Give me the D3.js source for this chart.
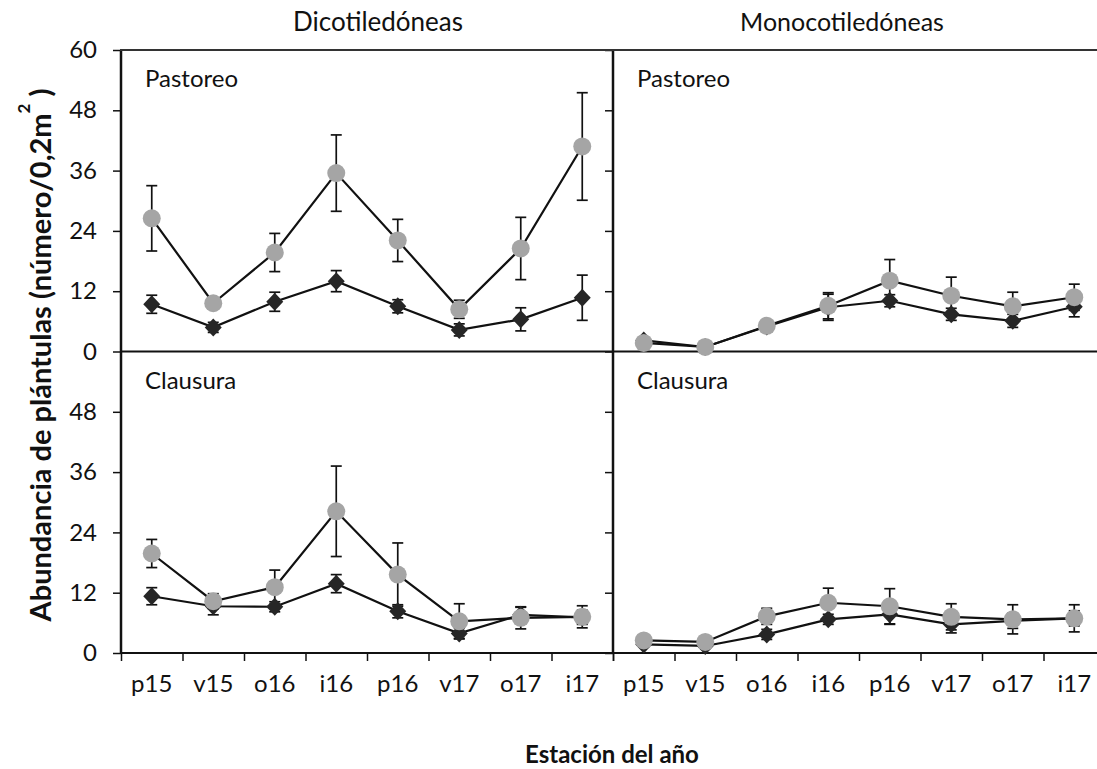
<!DOCTYPE html>
<meta charset="utf-8">
<style>
    body { margin: 0; background: #fff; }
    text { font-family: Lato, "Noto Sans", sans-serif; fill: #111; }
</style>
<svg width="1097" height="769"></svg>
<script src="https://d3js.org/d3.v7.min.js"></script>
<script>

    var seasons = ["p15", "v15", "o16", "i16", "p16", "v17", "o17", "i17"];
    var groups = ["Dicotiledóneas", "Monocotiledóneas"];
    var treatments = ["Pastoreo", "Clausura"];
    var yTicksTop = [0, 12, 24, 36, 48, 60];
    var yTicksBottom = [0, 12, 24, 36, 48];

    // gris (círculos) y negro (rombos): media y error
    var dicotPastoreoGris    = [26.5, 9.6, 19.7, 35.5, 22.1, 8.4, 20.5, 40.8];
    var dicotPastoreoGrisErr = [6.5, 0.9, 3.8, 7.6, 4.2, 1.8, 6.2, 10.7];
    var dicotPastoreoNegro    = [9.4, 4.8, 9.9, 14.0, 9.0, 4.3, 6.4, 10.7];
    var dicotPastoreoNegroErr = [1.8, 1.0, 1.9, 2.1, 1.3, 1.2, 2.3, 4.5];

    var monoPastoreoGris    = [1.7, 0.9, 5.1, 9.1, 14.1, 11.1, 9.0, 10.8];
    var monoPastoreoGrisErr = [0.4, 0.3, 0.8, 2.6, 4.2, 3.7, 2.8, 2.6];
    var monoPastoreoNegro    = [2.2, 0.9, 5.0, 8.8, 10.1, 7.4, 6.1, 8.9];
    var monoPastoreoNegroErr = [0.5, 0.3, 0.8, 2.6, 1.2, 1.2, 1.3, 2.0];

    var dicotClausuraGris    = [19.8, 10.3, 13.1, 28.2, 15.6, 6.3, 7.0, 7.2];
    var dicotClausuraGrisErr = [2.8, 1.5, 3.4, 9.0, 6.3, 3.5, 2.2, 2.2];
    var dicotClausuraNegro    = [11.3, 9.3, 9.2, 13.8, 8.3, 3.9, 7.6, 7.1];
    var dicotClausuraNegroErr = [1.7, 1.7, 1.0, 1.8, 1.3, 1.0, 1.5, 1.4];

    var monoClausuraGris    = [2.5, 2.2, 7.3, 10.0, 9.3, 7.2, 6.7, 6.9];
    var monoClausuraGrisErr = [0.4, 0.4, 1.6, 2.9, 3.5, 2.6, 2.9, 2.7];
    var monoClausuraNegro    = [1.7, 1.4, 3.7, 6.7, 7.7, 5.7, 6.4, 6.9];
    var monoClausuraNegroErr = [0.4, 0.3, 1.0, 1.0, 2.0, 1.7, 1.5, 1.5];

    var panels = [
        { col: 0, row: 0, gris: dicotPastoreoGris, grisErr: dicotPastoreoGrisErr, negro: dicotPastoreoNegro, negroErr: dicotPastoreoNegroErr },
        { col: 1, row: 0, gris: monoPastoreoGris, grisErr: monoPastoreoGrisErr, negro: monoPastoreoNegro, negroErr: monoPastoreoNegroErr },
        { col: 0, row: 1, gris: dicotClausuraGris, grisErr: dicotClausuraGrisErr, negro: dicotClausuraNegro, negroErr: dicotClausuraNegroErr },
        { col: 1, row: 1, gris: monoClausuraGris, grisErr: monoClausuraGrisErr, negro: monoClausuraNegro, negroErr: monoClausuraNegroErr }
    ];

    var svg = d3.select("svg"),
        width = +svg.attr("width"),
        height = +svg.attr("height");

    var plotLeft = 121, panelW = 492, plotTop = 50, panelH = 301.5;
    var gris = "#a5a5a5", negro = "#262626", lineColor = "#111";

    var x = [0, 1].map(function (c) {
        return d3.scaleBand().domain(seasons)
            .range([plotLeft + c * panelW, plotLeft + (c + 1) * panelW]);
    });
    var xTick = [0, 1].map(function (c) {
        return d3.scaleLinear().domain([0, seasons.length])
            .range([plotLeft + c * panelW, plotLeft + (c + 1) * panelW]);
    });
    var y = [0, 1].map(function (r) {
        return d3.scaleLinear().domain([0, 60])
            .range([plotTop + (r + 1) * panelH, plotTop + r * panelH]);
    });

    // ejes verticales (izquierda y divisor)
    [0, 1].forEach(function (c) {
        [0, 1].forEach(function (r) {
            var ax = svg.append("g")
                .attr("transform", "translate(" + (plotLeft + c * panelW) + ",0)")
                .call(d3.axisLeft(y[r])
                    .tickValues(r == 0 ? yTicksTop : yTicksBottom)
                    .tickSize(8)
                    .tickPadding(16)
                    .tickFormat(c == 0 ? d3.format("d") : ""));
            ax.select(".domain").remove();
            ax.selectAll("line").attr("stroke", lineColor).attr("stroke-width", 1.5);
            ax.selectAll("text").style("font-size", "24px").attr("fill", "#111");
        });
        svg.append("line")
            .attr("x1", plotLeft + c * panelW).attr("x2", plotLeft + c * panelW)
            .attr("y1", plotTop).attr("y2", plotTop + 2 * panelH)
            .attr("stroke", lineColor).attr("stroke-width", 2.5);
    });

    // líneas horizontales
    [0, 1, 2].forEach(function (k) {
        svg.append("line")
            .attr("x1", plotLeft - 1).attr("x2", width)
            .attr("y1", plotTop + k * panelH).attr("y2", plotTop + k * panelH)
            .attr("stroke", k == 0 ? "#333" : lineColor).attr("stroke-width", 2.2);
    });

    // eje x inferior
    [0, 1].forEach(function (c) {
        var ticks = svg.append("g")
            .attr("transform", "translate(0," + (plotTop + 2 * panelH) + ")")
            .call(d3.axisBottom(xTick[c]).tickValues(d3.range(0, seasons.length + 1))
                .tickSize(8).tickFormat(""));
        ticks.select(".domain").remove();
        ticks.selectAll("line").attr("stroke", lineColor).attr("stroke-width", 1.5);

        var labels = svg.append("g")
            .attr("transform", "translate(0," + (plotTop + 2 * panelH + 16) + ")")
            .call(d3.axisBottom(x[c]).tickSize(0).tickPadding(6));
        labels.select(".domain").remove();
        labels.selectAll("text").style("font-size", "24px").attr("fill", "#111");
    });

    // títulos de columna
    svg.append("text").attr("x", 378).attr("y", 31).attr("text-anchor", "middle")
        .style("font-size", "26px").text(groups[0]);
    svg.append("text").attr("x", 842).attr("y", 31).attr("text-anchor", "middle")
        .style("font-size", "25px").text(groups[1]);

    var line = d3.line();

    panels.forEach(function (p) {
        var xs = x[p.col], ys = y[p.row];
        var g = svg.append("g");
        var cx = function (i) { return xs(seasons[i]) + xs.bandwidth() / 2; };

        g.append("text")
            .attr("x", plotLeft + p.col * panelW + 24)
            .attr("y", plotTop + p.row * panelH + 37)
            .style("font-size", "24px")
            .text(treatments[p.row]);

        [["negro", "negroErr"], ["gris", "grisErr"]].forEach(function (s) {
            var vals = p[s[0]];
            g.append("path")
                .attr("d", line(vals.map(function (v, i) { return [cx(i), ys(v)]; })))
                .attr("fill", "none").attr("stroke", lineColor).attr("stroke-width", 2.2);
        });

        [["negro", "negroErr"], ["gris", "grisErr"]].forEach(function (s) {
            var vals = p[s[0]], errs = p[s[1]];
            var eb = g.append("g").selectAll("g").data(vals).enter().append("g");
            eb.append("line")
                .attr("x1", function (d, i) { return cx(i); })
                .attr("x2", function (d, i) { return cx(i); })
                .attr("y1", function (d, i) { return ys(d - errs[i]); })
                .attr("y2", function (d, i) { return ys(d + errs[i]); });
            eb.append("line")
                .attr("x1", function (d, i) { return cx(i) - 5.5; })
                .attr("x2", function (d, i) { return cx(i) + 5.5; })
                .attr("y1", function (d, i) { return ys(d + errs[i]); })
                .attr("y2", function (d, i) { return ys(d + errs[i]); });
            eb.append("line")
                .attr("x1", function (d, i) { return cx(i) - 5.5; })
                .attr("x2", function (d, i) { return cx(i) + 5.5; })
                .attr("y1", function (d, i) { return ys(d - errs[i]); })
                .attr("y2", function (d, i) { return ys(d - errs[i]); });
            eb.selectAll("line").attr("stroke", lineColor).attr("stroke-width", 1.7);
        });

        g.append("g").selectAll("path").data(p.negro).enter().append("path")
            .attr("d", "M0,-9L8.5,0L0,9L-8.5,0Z")
            .attr("transform", function (d, i) { return "translate(" + cx(i) + "," + ys(d) + ")"; })
            .attr("fill", negro);

        g.append("g").selectAll("circle").data(p.gris).enter().append("circle")
            .attr("cx", function (d, i) { return cx(i); })
            .attr("cy", function (d) { return ys(d); })
            .attr("r", 9)
            .attr("fill", gris);
    });

    // título eje y
    var yt = svg.append("text")
        .attr("transform", "translate(51,355) rotate(-90)")
        .attr("text-anchor", "middle")
        .style("font-size", "29px").style("font-weight", "bold");
    yt.append("tspan").text("Abundancia de plántulas (número/0,2m");
    yt.append("tspan").attr("dy", -21).style("font-size", "17px").text("2");
    yt.append("tspan").attr("dy", 21).text(" )");

    // título eje x
    svg.append("text").attr("x", 612).attr("y", 763).attr("text-anchor", "middle")
        .style("font-size", "24px").style("font-weight", "bold")
        .text("Estación del año");

</script>
